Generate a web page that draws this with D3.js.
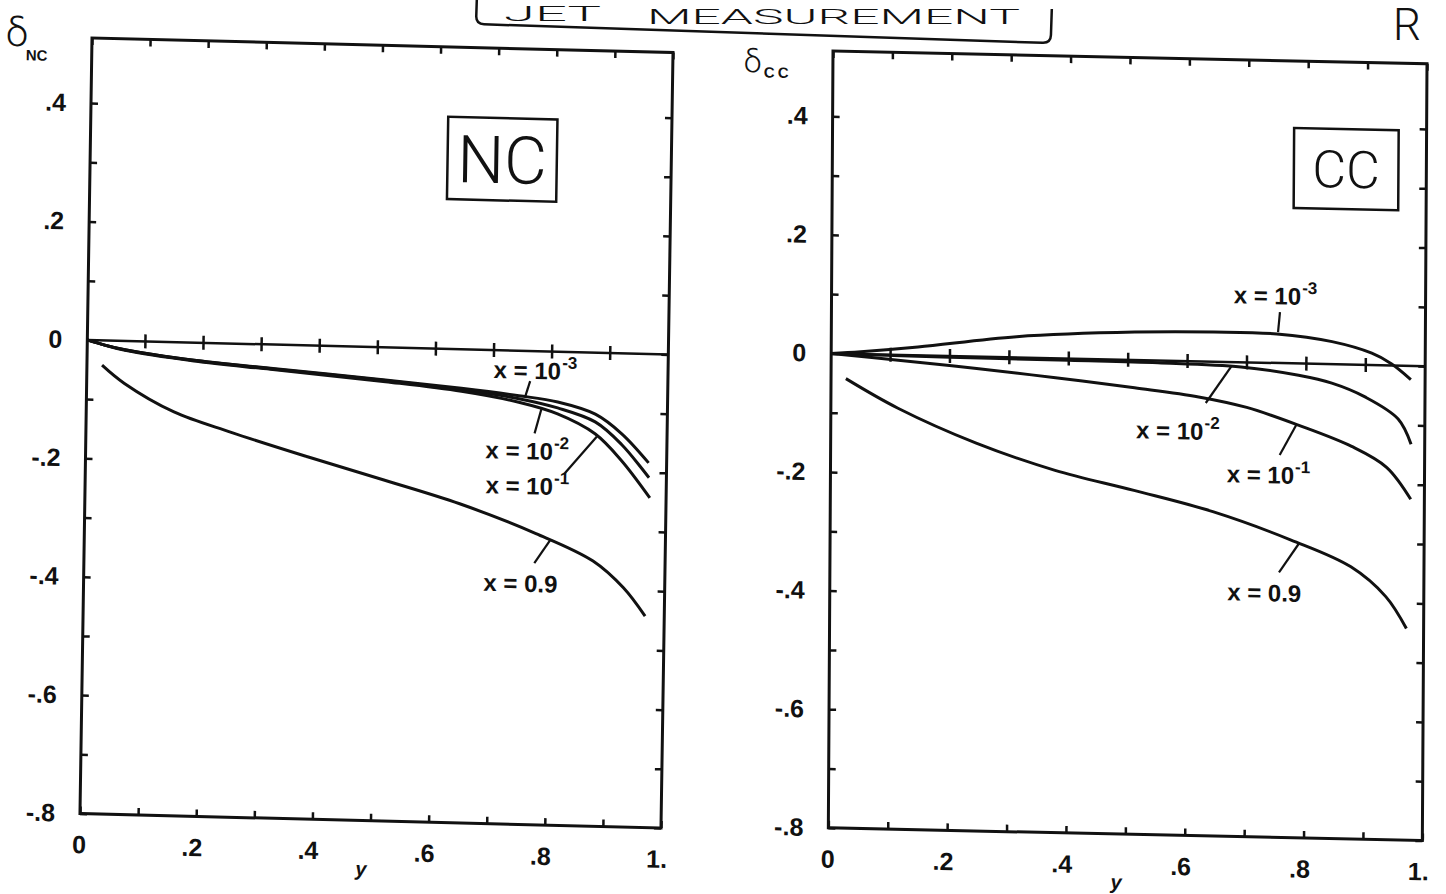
<!DOCTYPE html>
<html>
<head>
<meta charset="utf-8">
<script src="https://cdn.jsdelivr.net/npm/d3@7"></script>
<style>
  html, body { margin: 0; padding: 0; background: #fff; }
  svg { display: block; }
  .axis text, .note, .sub {
    font-family: "Liberation Sans Narrow", "Liberation Sans", Arial, sans-serif;
    font-weight: bold;
    fill: #111;
  }
  .axis text { font-size: 25px; }
  .axis line { stroke: #111; stroke-width: 2.5; }
  .note { font-size: 24px; }
  .hand {
    font-family: Roboto, Inter, Lato, "DejaVu Sans", sans-serif;
    font-weight: 300;
    fill: #111;
  }
</style>
</head>
<body>
<div id="chart"></div>
<script>

// tick values (every 0.1) and the labelled ones
var xTickValues = [0, 0.1, 0.2, 0.3, 0.4, 0.5, 0.6, 0.7, 0.8, 0.9, 1];
var yTickValues = [-0.8, -0.7, -0.6, -0.5, -0.4, -0.3, -0.2, -0.1, 0, 0.1, 0.2, 0.3, 0.4];
var xLabelValues = [0, 0.2, 0.4, 0.6, 0.8, 1];
var xTickLabels = ["0", ".2", ".4", ".6", ".8", "1."];
var yLabelValues = [-0.8, -0.6, -0.4, -0.2, 0, 0.2, 0.4];
var yTickLabels = ["-.8", "-.6", "-.4", "-.2", "0", ".2", ".4"];
var yDomain = [-0.8, 0.51];

// curve labels: x = 10^-3, 10^-2, 10^-1, 0.9
var labelBase = ["x = 10", "x = 10", "x = 10", "x = 0.9"];
var labelExp = ["-3", "-2", "-1", ""];

// NC panel, [y, delta]
var ncX3 = [[0, 0], [0.03, -0.008], [0.065, -0.015], [0.184, -0.030], [0.316, -0.040], [0.514, -0.055],
            [0.645, -0.066], [0.744, -0.076], [0.811, -0.085], [0.876, -0.104], [0.922, -0.136], [0.969, -0.184]];
var ncX2 = [[0, 0], [0.03, -0.008], [0.065, -0.015], [0.184, -0.030], [0.316, -0.041], [0.514, -0.056],
            [0.645, -0.068], [0.744, -0.081], [0.811, -0.095], [0.876, -0.117], [0.922, -0.154], [0.970, -0.209]];
var ncX1 = [[0, 0], [0.03, -0.008], [0.065, -0.016], [0.184, -0.031], [0.316, -0.042], [0.514, -0.058],
            [0.645, -0.071], [0.744, -0.087], [0.811, -0.105], [0.876, -0.137], [0.922, -0.181], [0.972, -0.243]];
var ncX09 = [[0.026, -0.042], [0.065, -0.072], [0.151, -0.118], [0.25, -0.150], [0.382, -0.188], [0.514, -0.224],
             [0.645, -0.261], [0.777, -0.308], [0.876, -0.352], [0.929, -0.396], [0.967, -0.443]];

// CC panel
var ccX3 = [[0, 0], [0.05, 0.004], [0.146, 0.014], [0.312, 0.035], [0.511, 0.047], [0.644, 0.050],
            [0.75, 0.049], [0.843, 0.038], [0.91, 0.020], [0.943, 0.003], [0.976, -0.023]];
var ccX2 = [[0, 0], [0.2, -0.002], [0.4, -0.003], [0.55, -0.004], [0.69, -0.008], [0.787, -0.020],
            [0.843, -0.032], [0.899, -0.054], [0.955, -0.090], [0.977, -0.132]];
var ccX1 = [[0, 0], [0.113, -0.009], [0.245, -0.020], [0.378, -0.033], [0.511, -0.047], [0.619, -0.060],
            [0.70, -0.076], [0.787, -0.104], [0.877, -0.138], [0.936, -0.172], [0.977, -0.225]];
var ccX09 = [[0.025, -0.042], [0.113, -0.090], [0.245, -0.146], [0.378, -0.189], [0.511, -0.220], [0.644, -0.253],
             [0.776, -0.298], [0.877, -0.341], [0.936, -0.390], [0.971, -0.443]];

// layout of the two (slightly skewed, scanned) panels
var panels = [
  { name: "NC", left: 92, top: 38, w: 581, h: 775.5, skewY: 0.025, skewX: -0.0155,
    series: [ncX3, ncX2, ncX1, ncX09],
    box: [0.615, 0.253, 0.803, 0.392], boxFont: 66,
    delta: { x: -86, y: 10, size: 40, subX: -66, subY: 24, sub: "NC", spacing: 0 },
    notes: [
      { at: [0.700, -0.047], ptr: [0.763, -0.051, 0.755, -0.077] },
      { at: [0.688, -0.183], ptr: [0.772, -0.139, 0.783, -0.098] },
      { at: [0.689, -0.242], ptr: [0.825, -0.205, 0.879, -0.142] },
      { at: [0.688, -0.407], ptr: [0.775, -0.358, 0.802, -0.318] }
    ] },
  { name: "CC", left: 833, top: 51, w: 594, h: 776.8, skewY: 0.0215, skewX: -0.006,
    series: [ccX3, ccX2, ccX1, ccX09],
    box: [0.777, 0.262, 0.953, 0.397], boxFont: 52,
    delta: { x: -89, y: 23, size: 32, subX: -69, subY: 28, sub: "CC", spacing: 3 },
    notes: [
      { at: [0.677, 0.099], ptr: [0.755, 0.086, 0.752, 0.052] },
      { at: [0.514, -0.132], ptr: [0.631, -0.070, 0.674, -0.007] },
      { at: [0.667, -0.203], ptr: [0.756, -0.155, 0.784, -0.103] },
      { at: [0.669, -0.402], ptr: [0.756, -0.353, 0.789, -0.304] }
    ] }
];

var svg = d3.select("#chart").append("svg")
  .attr("width", 1446)
  .attr("height", 894);

function fmtX(d) {
  var i = xLabelValues.indexOf(d);
  return i < 0 ? "" : xTickLabels[i];
}
function fmtY(d) {
  var i = yLabelValues.indexOf(d);
  return i < 0 ? "" : yTickLabels[i];
}

panels.forEach(drawPanel);

function drawPanel(p) {
  var g = svg.append("g")
    .attr("transform", "matrix(1," + p.skewY + "," + p.skewX + ",1," + p.left + "," + p.top + ")");

  var xScale = d3.scaleLinear().domain([0, 1]).range([0, p.w]);
  var yScale = d3.scaleLinear().domain(yDomain).range([p.h, 0]);

  g.append("g").attr("class", "axis")
    .call(d3.axisLeft(yScale).tickValues(yTickValues).tickSize(-7).tickSizeOuter(0)
      .tickPadding(25).tickFormat(fmtY));

  var bottom = g.append("g").attr("class", "axis")
    .attr("transform", "translate(0," + p.h + ")")
    .call(d3.axisBottom(xScale).tickValues(xTickValues).tickSize(-7).tickSizeOuter(0)
      .tickPadding(22).tickFormat(fmtX));
  bottom.selectAll("text").attr("text-anchor", "end").attr("dx", 6);

  g.append("g").attr("class", "axis")
    .attr("transform", "translate(" + p.w + ",0)")
    .call(d3.axisRight(yScale).tickValues(yTickValues).tickSize(-7).tickSizeOuter(0).tickFormat(""));

  g.append("g").attr("class", "axis")
    .call(d3.axisTop(xScale).tickValues(xTickValues).tickSize(-7).tickSizeOuter(0).tickFormat(""));

  g.selectAll(".axis .domain").remove();

  // frame
  g.append("rect")
    .attr("width", p.w)
    .attr("height", p.h)
    .attr("fill", "none")
    .attr("stroke", "#111")
    .attr("stroke-width", 3);

  // zero line with crossing ticks
  g.append("line")
    .attr("x1", xScale(0)).attr("x2", xScale(1))
    .attr("y1", yScale(0)).attr("y2", yScale(0))
    .attr("stroke", "#111").attr("stroke-width", 2.5);
  g.selectAll(".zt")
    .data(xTickValues.filter(function(v) { return v > 0 && v < 1; }))
    .enter().append("line")
    .attr("class", "zt")
    .attr("x1", function(v) { return xScale(v); })
    .attr("x2", function(v) { return xScale(v); })
    .attr("y1", yScale(0) - 7)
    .attr("y2", yScale(0) + 7)
    .attr("stroke", "#111").attr("stroke-width", 2.5);

  // curves
  var line = d3.line()
    .x(function(d) { return xScale(d[0]); })
    .y(function(d) { return yScale(d[1]); })
    .curve(d3.curveCatmullRom.alpha(0.5));

  g.selectAll(".curve")
    .data(p.series)
    .enter().append("path")
    .attr("class", "curve")
    .attr("d", line)
    .attr("fill", "none")
    .attr("stroke", "#111")
    .attr("stroke-width", 3);

  // curve labels and pointers
  p.notes.forEach(function(n, i) {
    g.append("line")
      .attr("x1", xScale(n.ptr[0])).attr("y1", yScale(n.ptr[1]))
      .attr("x2", xScale(n.ptr[2])).attr("y2", yScale(n.ptr[3]))
      .attr("stroke", "#111").attr("stroke-width", 2.2);
    var t = g.append("text")
      .attr("class", "note")
      .attr("x", xScale(n.at[0]))
      .attr("y", yScale(n.at[1]))
      .text(labelBase[i]);
    if (labelExp[i]) {
      t.append("tspan")
        .attr("dx", 1)
        .attr("dy", -11)
        .attr("font-size", 17)
        .text(labelExp[i]);
    }
  });

  // NC / CC box
  g.append("rect")
    .attr("x", xScale(p.box[0]))
    .attr("y", yScale(p.box[3]))
    .attr("width", xScale(p.box[2]) - xScale(p.box[0]))
    .attr("height", yScale(p.box[1]) - yScale(p.box[3]))
    .attr("fill", "none")
    .attr("stroke", "#111")
    .attr("stroke-width", 2.5);
  g.append("text")
    .attr("class", "hand")
    .attr("x", (xScale(p.box[0]) + xScale(p.box[2])) / 2)
    .attr("y", (yScale(p.box[1]) + yScale(p.box[3])) / 2)
    .attr("dy", "0.36em")
    .attr("text-anchor", "middle")
    .attr("font-size", p.boxFont)
    .text(p.name);

  // axis titles
  g.append("text")
    .attr("class", "hand")
    .attr("x", p.delta.x)
    .attr("y", p.delta.y)
    .attr("font-size", p.delta.size)
    .text("\u03b4");
  g.append("text")
    .attr("class", "sub")
    .attr("x", p.delta.subX)
    .attr("y", p.delta.subY)
    .attr("font-size", 15)
    .attr("letter-spacing", p.delta.spacing)
    .text(p.delta.sub);

  g.append("text")
    .attr("class", "sub")
    .attr("x", xScale(0.485))
    .attr("y", p.h + 55)
    .attr("text-anchor", "middle")
    .attr("font-size", 20)
    .attr("font-style", "italic")
    .text("y");
}

// handwritten heading box at the top of the scan
var head = svg.append("g");
head.append("path")
  .attr("transform", "rotate(1.9 476 24)")
  .attr("d", "M476,-10 L476,16 Q476,24 484,24 L1043,24 Q1051,24 1051,16 L1051,-10")
  .attr("fill", "none")
  .attr("stroke", "#111")
  .attr("stroke-width", 2.5);
head.append("text").attr("class", "hand")
  .attr("x", 504).attr("y", 21).attr("font-size", 20)
  .attr("textLength", 97).attr("lengthAdjust", "spacingAndGlyphs")
  .text("JET");
head.append("text").attr("class", "hand")
  .attr("x", 647).attr("y", 24).attr("font-size", 20)
  .attr("textLength", 373).attr("lengthAdjust", "spacingAndGlyphs")
  .text("MEASUREMENT");

svg.append("text").attr("class", "hand")
  .attr("x", 1393).attr("y", 40).attr("font-size", 44)
  .text("R");

</script>
</body>
</html>
